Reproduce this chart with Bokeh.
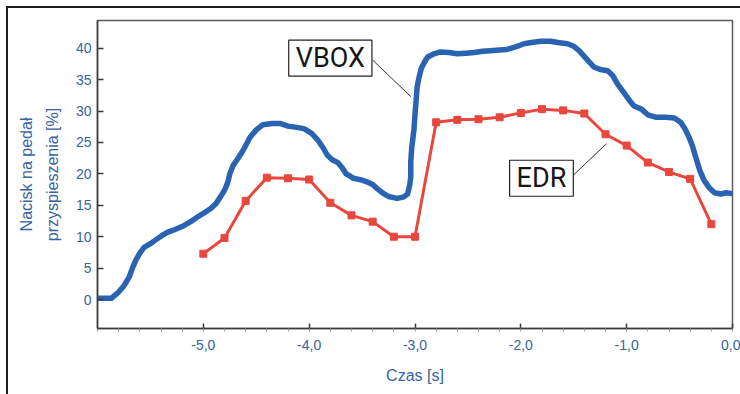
from bokeh.plotting import figure
from bokeh.models import Range1d, FixedTicker, CustomJSTickFormatter, Label
from bokeh.embed import file_html
from bokeh.resources import INLINE

# VBOX measured series (time [s], pedal [%])
vbox_t = [-6.00, -5.87, -5.80, -5.75, -5.70, -5.67, -5.64, -5.60, -5.56, -5.50, -5.45, -5.39,
          -5.34, -5.29, -5.18, -5.12, -5.06, -5.00, -4.93, -4.88, -4.84, -4.80, -4.77, -4.75,
          -4.72, -4.68, -4.64, -4.60, -4.56, -4.50, -4.44, -4.35, -4.27, -4.20, -4.12, -4.05,
          -3.98, -3.92, -3.87, -3.83, -3.78, -3.73, -3.69, -3.65, -3.58, -3.50, -3.45, -3.40,
          -3.36, -3.30, -3.25, -3.17, -3.11, -3.07, -3.05, -3.04, -3.04, -3.03, -3.01, -3.00,
          -2.99, -2.98, -2.96, -2.94, -2.91, -2.88, -2.82, -2.76, -2.68, -2.60, -2.52, -2.44,
          -2.36, -2.29, -2.20, -2.13, -2.05, -1.97, -1.90, -1.81, -1.72, -1.65, -1.56, -1.50,
          -1.45, -1.38, -1.31, -1.25, -1.18, -1.13, -1.09, -1.03, -0.97, -0.93, -0.86, -0.80,
          -0.72, -0.63, -0.55, -0.49, -0.45, -0.41, -0.38, -0.35, -0.31, -0.27, -0.22, -0.17,
          -0.11, -0.06, -0.02]
vbox_v = [0.2, 0.2, 1.2, 2.2, 3.6, 5.0, 6.2, 7.4, 8.3, 8.9, 9.5, 10.2,
          10.7, 11.0, 11.8, 12.4, 13.1, 13.7, 14.5, 15.3, 16.3, 17.4, 18.6, 20.0,
          21.3, 22.3, 23.3, 24.5, 25.8, 27.0, 27.8, 28.0, 28.0, 27.6, 27.4, 27.2,
          26.5, 25.4, 24.2, 23.0, 22.2, 21.8, 21.0, 20.0, 19.3, 19.0, 18.7, 18.3,
          17.7, 16.9, 16.4, 16.1, 16.3, 16.8, 18.2, 19.5, 22.0, 24.3, 27.0, 29.5,
          31.5, 33.8, 35.5, 36.8, 37.8, 38.6, 39.1, 39.4, 39.3, 39.1, 39.2, 39.3,
          39.5, 39.6, 39.7, 39.8, 40.2, 40.7, 40.9, 41.1, 41.1, 40.9, 40.7, 40.3,
          39.6, 38.3, 37.0, 36.6, 36.4, 35.6, 34.4, 33.0, 31.6, 30.8, 30.3, 29.4,
          29.0, 29.0, 28.9, 28.2, 27.2, 25.8, 24.5, 22.8, 20.6, 19.0, 17.8, 17.0,
          16.8, 17.0, 16.9]

# EDR recorded series
edr_t = [-5.0, -4.8, -4.6, -4.4, -4.2, -4.0, -3.8, -3.6, -3.4, -3.2, -3.0, -2.8, -2.6,
         -2.4, -2.2, -2.0, -1.8, -1.6, -1.4, -1.2, -1.0, -0.8, -0.6, -0.4, -0.2]
edr_v = [7.3, 9.8, 15.7, 19.4, 19.3, 19.1, 15.4, 13.4, 12.4, 10.0, 10.0, 28.2, 28.6,
         28.7, 29.0, 29.7, 30.3, 30.1, 29.6, 26.3, 24.5, 21.8, 20.3, 19.2, 12.0]

x_major = [-5.0, -4.0, -3.0, -2.0, -1.0, 0.0]
x_minor = [round(-6.0 + 0.2 * i, 1) for i in range(31)]
y_major = [0, 5, 10, 15, 20, 25, 30, 35, 40]

x_label = "Czas [s]"
y_label = "Nacisk na pedał\nprzyspieszenia [%]"

LABEL_COLOR = "#35649e"
AXIS_COLOR = "#3c3c3c"
FONT = "Liberation Sans"

p = figure(frame_width=635, frame_height=308,
           min_border_left=89, min_border_top=12, min_border_right=8, min_border_bottom=66,
           x_range=Range1d(-6.0, 0.0), y_range=Range1d(-4.6, 44.4),
           output_backend="svg", toolbar_location=None, tools="")
p.styles = {"margin-left": "6px", "margin-top": "6px",
            "border-top": "2px solid #1e1e1e", "border-left": "2px solid #1e1e1e"}

p.background_fill_color = "white"
p.border_fill_color = "white"
p.outline_line_color = "#5a5a5a"
p.outline_line_width = 1.5
p.xgrid.visible = False
p.ygrid.visible = False

# axes
xa = p.xaxis[0]
xa.ticker = FixedTicker(ticks=x_major, minor_ticks=x_minor)
xa.formatter = CustomJSTickFormatter(code="return tick.toFixed(1).replace('.', ',');")
xa.major_tick_in = 5
xa.major_tick_out = 0
xa.minor_tick_in = 0
xa.minor_tick_out = 3
xa.minor_tick_line_color = "#9a9a9a"
xa.major_label_standoff = 8
xa.axis_label = x_label
xa.axis_label_standoff = 14

ya = p.yaxis[0]
ya.ticker = FixedTicker(ticks=y_major, minor_ticks=[])
ya.major_tick_in = 6
ya.major_tick_out = 0
ya.major_label_standoff = 6
ya.axis_label = y_label
ya.axis_label_standoff = 12
ya.axis_label_text_line_height = 1.55

for ax in (xa, ya):
    ax.axis_line_color = AXIS_COLOR
    ax.axis_line_width = 1.5
    ax.major_tick_line_color = AXIS_COLOR
    ax.major_tick_line_width = 1.5
    ax.major_label_text_font = FONT
    ax.major_label_text_font_size = "14px"
    ax.major_label_text_color = LABEL_COLOR
    ax.axis_label_text_font = FONT
    ax.axis_label_text_font_size = "16px"
    ax.axis_label_text_font_style = "normal"
    ax.axis_label_text_color = LABEL_COLOR

# data
p.line(vbox_t, vbox_v, line_color="#2a63b2", line_width=5.5, line_join="round", line_cap="round")
p.line(edr_t, edr_v, line_color="#e8473d", line_width=3)
p.scatter(edr_t, edr_v, marker="square", size=7, fill_color="#e8473d", line_color="#e8473d")

# callout boxes and leader lines
p.segment(x0=[-3.40, -1.51], y0=[38.1, 19.7], x1=[-3.04, -1.19], y1=[32.3, 24.8],
          line_color="#333333", line_width=1)
for txt, lx, ly in (("VBOX", -3.80, 38.4), ("EDR", -1.805, 19.3)):
    p.add_layout(Label(x=lx, y=ly, text=txt, text_align="center", text_baseline="middle",
                       text_font="Roboto", text_font_size="27px",
                       text_color="#161616", background_fill_color="white",
                       border_line_color="#222222", border_line_width=1.2,
                       padding=dict(left=7, right=7, top=2, bottom=2)))

open("out.html", "w").write(file_html(p, INLINE))
